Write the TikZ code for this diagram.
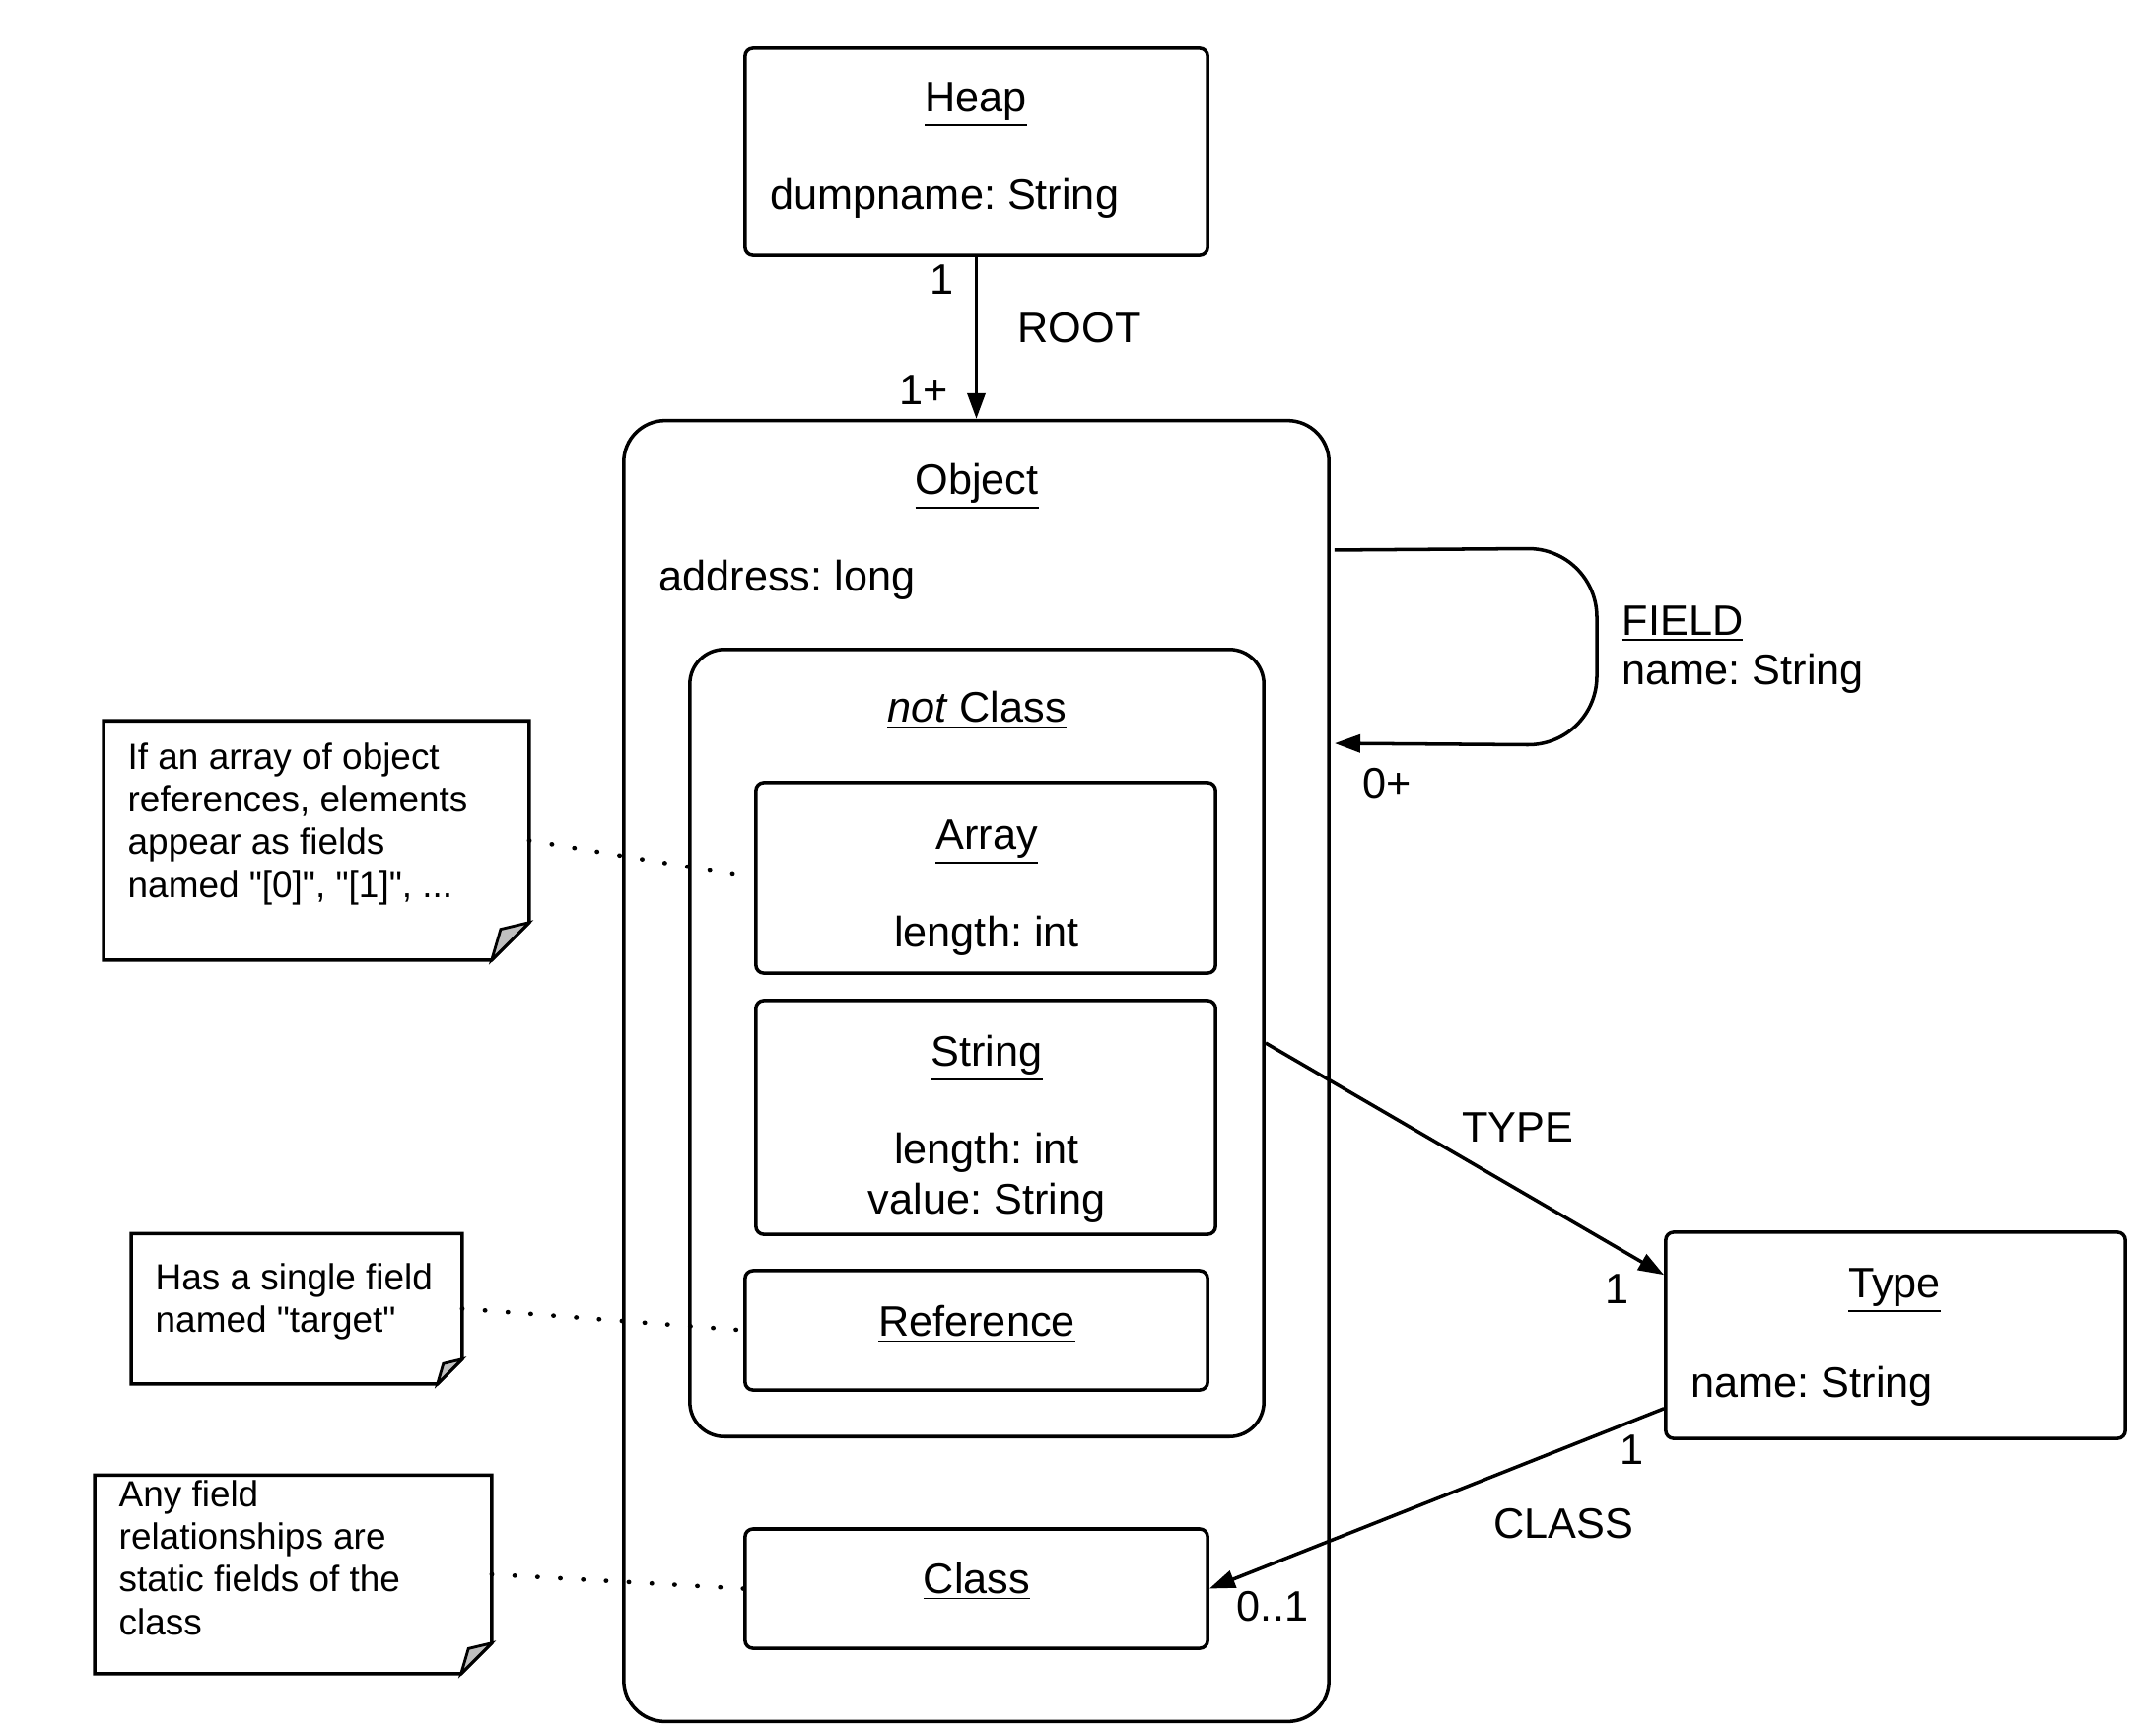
\documentclass[tikz,border=0pt]{standalone}
\usepackage{fontspec}
\setmainfont{Liberation Sans}
\usetikzlibrary{arrows.meta}
\frenchspacing

\begin{document}
\begin{tikzpicture}[x=0.01cm,y=-0.01cm,
box/.style={draw,line width=1pt,rounded corners=0.08cm,inner sep=0pt},
rel/.style={line width=1pt,-{Triangle[length=0.26cm,width=0.18cm]}},
dots/.style={line width=1.3pt,dash pattern=on 0.1pt off 6.5pt,line cap=round},
txt/.style={anchor=base,inner sep=0pt},
ltxt/.style={anchor=base west,inner sep=0pt},
notetxt/.style={anchor=north west,inner sep=0pt,align=left,font=\fontsize{10.5}{12.3}\selectfont},
font=\fontsize{12.3}{14.5}\selectfont]
\useasboundingbox (0,0) rectangle (2170,1760);
% boxes
\node[box,minimum width=4.69cm,minimum height=2.10cm] (heap) at (990.5,154) {};
\node[box,rounded corners=0.42cm,minimum width=7.15cm,minimum height=13.19cm] (object) at (990.5,1086.5) {};
\node[box,rounded corners=0.35cm,minimum width=5.82cm,minimum height=7.98cm] (notclass) at (991,1058) {};
\node[box,minimum width=4.66cm,minimum height=1.93cm] (array) at (1000,890.5) {};
\node[box,minimum width=4.66cm,minimum height=2.37cm] (string) at (1000,1133.5) {};
\node[box,minimum width=4.69cm,minimum height=1.21cm] (reference) at (990.5,1349.5) {};
\node[box,minimum width=4.69cm,minimum height=1.21cm] (class) at (990.5,1611.5) {};
\node[box,minimum width=4.66cm,minimum height=2.09cm] (type) at (1923,1354.5) {};
% notes
\node[minimum width=4.30cm,minimum height=2.41cm] (noteA) at (321,852.5) {};
\node[minimum width=3.34cm,minimum height=1.51cm] (noteB) at (301,1327.5) {};
\node[minimum width=4.01cm,minimum height=2.00cm] (noteC) at (297.5,1597) {};
\foreach \n/\f in {noteA/0.38cm,noteB/0.25cm,noteC/0.31cm} {
\draw[line width=1pt] (\n.north west) -- (\n.north east) -- ([yshift=\f]\n.south east) -- ([xshift=-\f]\n.south east) -- (\n.south west) -- cycle;
\filldraw[fill=black!25,line width=0.8pt] ([yshift=\f]\n.south east) -- ([xshift=-\f]\n.south east) -- ([shift={(-0.76*\f,0.82*\f)}]\n.south east) -- cycle;
}
% texts
\node[txt] (heapname) at (990,113) {\underline{Heap}};
\node[ltxt] (heapattr) at (781,212) {dumpname: String};
\node[txt] (objname) at (991,501) {\underline{Object}};
\node[ltxt] (objattr) at (668,599) {address: long};
\node[txt] (notname) at (991,732) {\underline{\textit{not} Class}};
\node[txt] (arrname) at (1001,861) {\underline{Array}};
\node[txt] (arrattr) at (1001,960) {length: int};
\node[txt] (strname) at (1001,1081) {\underline{String}};
\node[txt] (strattr) at (1001,1180) {length: int};
\node[txt] (strval) at (1001,1231) {value: String};
\node[txt] (refname) at (991,1355) {\underline{Reference}};
\node[txt] (clsname) at (991,1616) {\underline{Class}};
\node[txt] (typename) at (1922,1316) {\underline{Type}};
\node[ltxt] (typeattr) at (1715,1417) {name: String};
\node[notetxt] (noteAtxt) at (129,753) {If an array of object\\references, elements\\appear as fields\\named \textquotedbl[0]\textquotedbl, \textquotedbl[1]\textquotedbl, ...};
\node[notetxt] (noteBtxt) at (157,1281) {Has a single field\\named \textquotedbl target\textquotedbl};
\node[notetxt] (noteCtxt) at (120,1501) {Any field\\relationships are\\static fields of the\\class};
% connectors
\draw[rel] (heap.south) -- (object.north);
\draw[rel,rounded corners=0.7cm] ([shift={(0.04cm,-1.33cm)}]object.north east) -- (1620,556) -- (1620,756) -- ([shift={(0.04cm,-3.29cm)}]object.north east);
\draw[rel] (notclass.east) -- ([yshift=-0.45cm]type.north west);
\draw[rel] ([yshift=0.32cm]type.south west) -- (class.east);
\draw[dots] (noteA.east) -- (array.west);
\draw[dots] (noteB.east) -- (reference.west);
\draw[dots] (noteC.east) -- (class.west);
% connector labels
\node[txt] (rootone) at (956,298) {1};
\node[txt] (rootname) at (1095,347) {ROOT};
\node[txt] (rootmany) at (937,410) {1+};
\node[ltxt] (fieldname) at (1645,644) {\underline{FIELD}};
\node[ltxt] (fieldattr) at (1645,694) {name: String};
\node[txt] (fieldmany) at (1407,809) {0+};
\node[txt] (typelbl) at (1540,1158) {TYPE};
\node[txt] (typeone) at (1641,1322) {1};
\node[txt] (classone) at (1656,1485) {1};
\node[txt] (classlbl) at (1586,1560) {CLASS};
\node[txt] (classopt) at (1291,1644) {0..1};
\end{tikzpicture}
\end{document}
